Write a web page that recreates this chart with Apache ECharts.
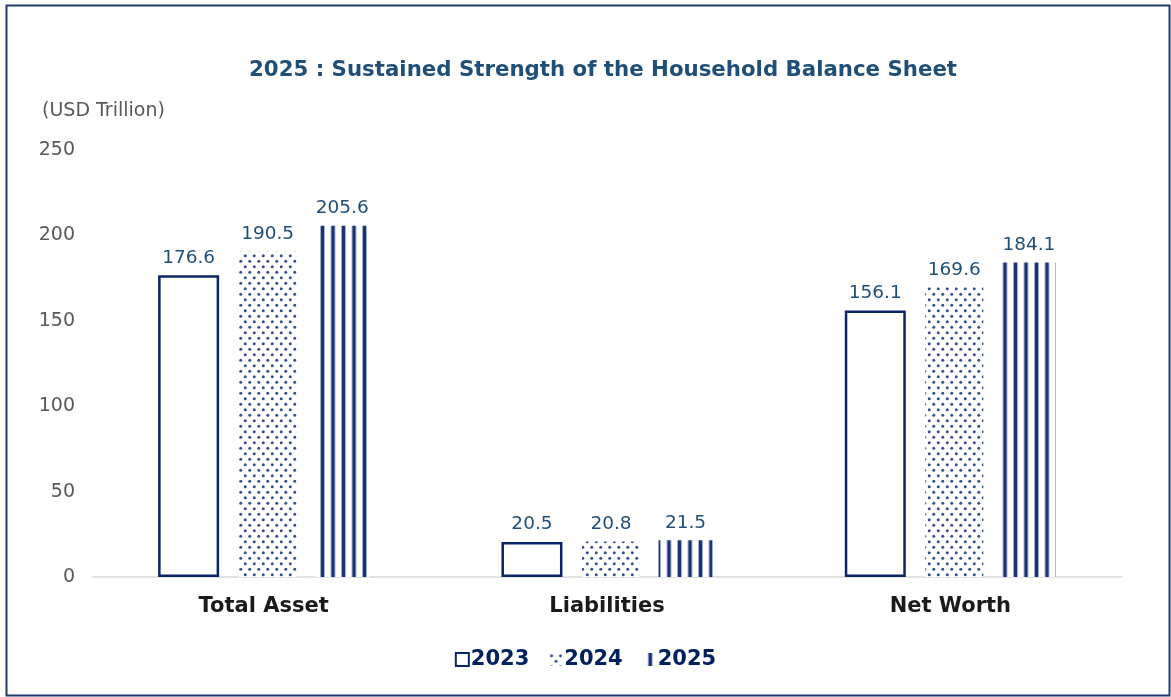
<!DOCTYPE html>
<html>
<head>
<meta charset="utf-8">
<script src="https://cdn.jsdelivr.net/npm/echarts@6/dist/echarts.min.js"></script>
<style>html,body{margin:0;padding:0;background:#fff;}#c{width:1171px;height:697px;}</style>
</head>
<body>
<div id="c"></div>
<script>
const categories = ['Total Asset', 'Liabilities', 'Net Worth'];
const years = ['2023', '2024', '2025'];
const values2023 = [176.6, 20.5, 156.1];
const values2024 = [190.5, 20.8, 169.6];
const values2025 = [205.6, 21.5, 184.1];
const yTicks = [0, 50, 100, 150, 200, 250];

function dotPattern() {
  const c = document.createElement('canvas');
  c.width = 9; c.height = 11;
  const g = c.getContext('2d');
  g.fillStyle = '#fff'; g.fillRect(0, 0, 9, 11);
  g.fillStyle = '#35508f';
  g.beginPath(); g.arc(2.25, 2.75, 1.5, 0, Math.PI * 2); g.fill();
  g.beginPath(); g.arc(6.75, 8.25, 1.5, 0, Math.PI * 2); g.fill();
  return c;
}
function stripePattern() {
  const c = document.createElement('canvas');
  c.width = 21; c.height = 10;
  const g = c.getContext('2d');
  g.fillStyle = '#fff'; g.fillRect(0, 0, 21, 10);
  [0, 10.5].forEach(function (o) {
    g.fillStyle = '#9fb0d2'; g.fillRect(o, 0, 5, 10);
    g.fillStyle = '#1d3372'; g.fillRect(o + 1, 0, 3, 10);
  });
  return c;
}
const dots = { image: dotPattern(), repeat: 'repeat' };
const stripes = { image: stripePattern(), repeat: 'repeat', x: 5 };

const labelStyle = {
  show: true, position: 'top', distance: 8,
  color: '#1f4e79', fontSize: 18.5, fontFamily: 'DejaVu Sans'
};

const chart = echarts.init(document.getElementById('c'), null, { renderer: 'canvas' });
chart.setOption({
  animation: false,
  backgroundColor: '#fff',
  title: {
    text: '2025 : Sustained Strength of the Household Balance Sheet',
    left: 244, top: 55,
    textStyle: { color: '#1f4e79', fontSize: 21.3, fontWeight: 'bold', fontFamily: 'DejaVu Sans' }
  },
  graphic: [
    { type: 'rect', shape: { x: 6.5, y: 5.5, width: 1163, height: 690 },
      style: { fill: null, stroke: '#1f3a6e', lineWidth: 2 }, silent: true },
    { type: 'text', left: 42, top: 102,
      style: { text: '(USD Trillion)', fill: '#595959', fontSize: 19, fontFamily: 'DejaVu Sans' } }
  ],
  legend: {
    bottom: 22, left: 'center', itemWidth: 13, itemHeight: 13, itemGap: 20,
    textStyle: { color: '#002060', fontSize: 21, fontWeight: 'bold', fontFamily: 'DejaVu Sans', padding: [0, 0, 0, -3] },
    data: years.map(function (y) { return { name: y, icon: 'rect' }; })
  },
  grid: { left: 92, right: 49, top: 150, bottom: 120 },
  xAxis: {
    type: 'category', data: categories,
    axisLine: { lineStyle: { color: '#d9d9d9', width: 1.5 } },
    axisTick: { show: false },
    axisLabel: { color: '#1a1a1a', fontSize: 21, fontWeight: 'bold', fontFamily: 'DejaVu Sans', margin: 19 }
  },
  yAxis: {
    type: 'value', min: yTicks[0], max: yTicks[yTicks.length - 1], interval: 50,
    axisLine: { show: false }, axisTick: { show: false }, splitLine: { show: false },
    axisLabel: { color: '#595959', fontSize: 19, fontFamily: 'DejaVu Sans', margin: 17 }
  },
  series: [
    { name: years[0], type: 'bar', data: values2023, barWidth: 61, barGap: '32%',
      itemStyle: { color: '#ffffff', borderColor: '#0a2566', borderWidth: 2.5 }, label: labelStyle },
    { name: years[1], type: 'bar', data: values2024, barWidth: 58, barGap: '32%',
      itemStyle: { color: dots }, label: labelStyle },
    { name: years[2], type: 'bar', data: values2025, barWidth: 54, barGap: '32%',
      itemStyle: { color: stripes }, label: labelStyle }
  ]
});
</script>
</body>
</html>
